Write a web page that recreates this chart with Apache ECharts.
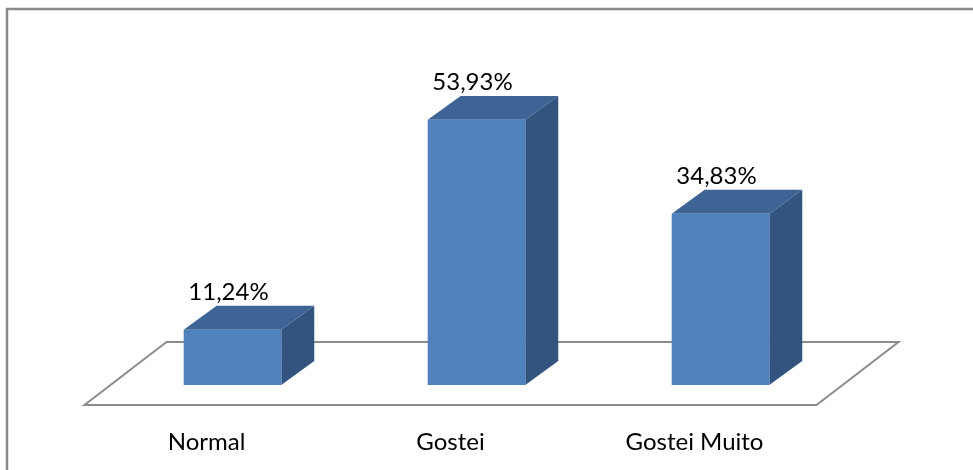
<!DOCTYPE html>
<html>
<head>
<meta charset="utf-8">
<script src="https://cdn.jsdelivr.net/npm/echarts@6/dist/echarts.min.js"></script>
<style>
  html, body { margin: 0; padding: 0; background: #fff; }
  #chart { width: 973px; height: 470px; }
</style>
</head>
<body>
<div id="chart"></div>
<script>
// Survey answers and their shares (percent)
const categories = ['Normal', 'Gostei', 'Gostei Muito'];
const shares = [11.24, 53.93, 34.83];

const FONT = 'Lato, "Open Sans", sans-serif';
const FRONT = '#4F81BD';
const TOP = '#3D6494';
const SIDE = '#32547F';
const FLOOR_LINE = '#8c8c8c';

// Depth of each box and of the floor, as fractions of one category band
const BOX_DX = 0.135, BOX_DY = -0.098;
const FLOOR_DX = 0.336, FLOOR_DY = -0.258;
const FLOOR_FRONT = 0.317; // share of floor depth lying in front of the boxes

function fmt(v) {
  return v.toFixed(2).replace('.', ',') + '%';
}

function renderFloor(params, api) {
  const cs = params.coordSys;
  const band = api.size([1, 0])[0];
  const base = api.coord([0, 0])[1];
  const fx = band * FLOOR_DX, fy = band * FLOOR_DY;
  const ox = -fx * FLOOR_FRONT, oy = -fy * FLOOR_FRONT;
  const L = cs.x, R = cs.x + cs.width;
  const pts = [
    [L + ox, base + oy],
    [R + ox, base + oy],
    [R + ox + fx, base + oy + fy],
    [L + ox + fx, base + oy + fy]
  ];
  return {
    type: 'polygon',
    shape: { points: pts },
    style: { fill: '#fff', stroke: FLOOR_LINE, lineWidth: 2 }
  };
}

function renderBox(params, api) {
  const idx = api.value(0);
  const v = api.value(1);
  const top = api.coord([idx, v]);
  const base = api.coord([idx, 0]);
  const band = api.size([1, 0])[0];
  const w = band * 0.4;
  const dx = band * BOX_DX, dy = band * BOX_DY;
  const x0 = top[0] - w / 2, x1 = top[0] + w / 2;
  const y0 = top[1], y1 = base[1];
  return {
    type: 'group',
    children: [
      {
        type: 'polygon',
        shape: { points: [[x1, y0], [x1 + dx, y0 + dy], [x1 + dx, y1 + dy], [x1, y1]] },
        style: { fill: SIDE }
      },
      {
        type: 'polygon',
        shape: { points: [[x0, y0], [x1, y0], [x1 + dx, y0 + dy], [x0 + dx, y0 + dy]] },
        style: { fill: TOP }
      },
      {
        type: 'rect',
        shape: { x: x0, y: y0, width: w, height: y1 - y0 },
        style: { fill: FRONT }
      },
      {
        type: 'text',
        style: {
          text: fmt(v),
          x: top[0] - 4,
          y: y0 + dy - 14,
          align: 'center',
          verticalAlign: 'middle',
          fill: '#000',
          font: '24px ' + FONT
        }
      }
    ]
  };
}

const chart = echarts.init(document.getElementById('chart'), null, { renderer: 'canvas' });
chart.setOption({
  animation: false,
  backgroundColor: '#fff',
  graphic: [{
    type: 'rect',
    shape: { x: 7, y: 9, width: 1000, height: 500 },
    style: { fill: 'none', stroke: '#8a8a8a', lineWidth: 2.5 },
    silent: true
  }],
  grid: { left: 110.5, right: 130.5, top: 90, bottom: 85 },
  xAxis: {
    type: 'category',
    data: categories,
    axisLine: { show: false },
    axisTick: { show: false },
    axisLabel: {
      margin: 45,
      padding: [0, 52, 0, 0],
      fontFamily: FONT,
      fontSize: 24,
      color: '#000'
    }
  },
  yAxis: {
    type: 'value',
    min: 0,
    max: 60,
    show: false,
    splitLine: { show: false }
  },
  series: [
    {
      type: 'custom',
      renderItem: renderFloor,
      data: [[0, 0]],
      z: 1,
      silent: true
    },
    {
      type: 'custom',
      renderItem: renderBox,
      data: shares.map((v, i) => [i, v]),
      z: 2
    }
  ]
});
</script>
</body>
</html>
